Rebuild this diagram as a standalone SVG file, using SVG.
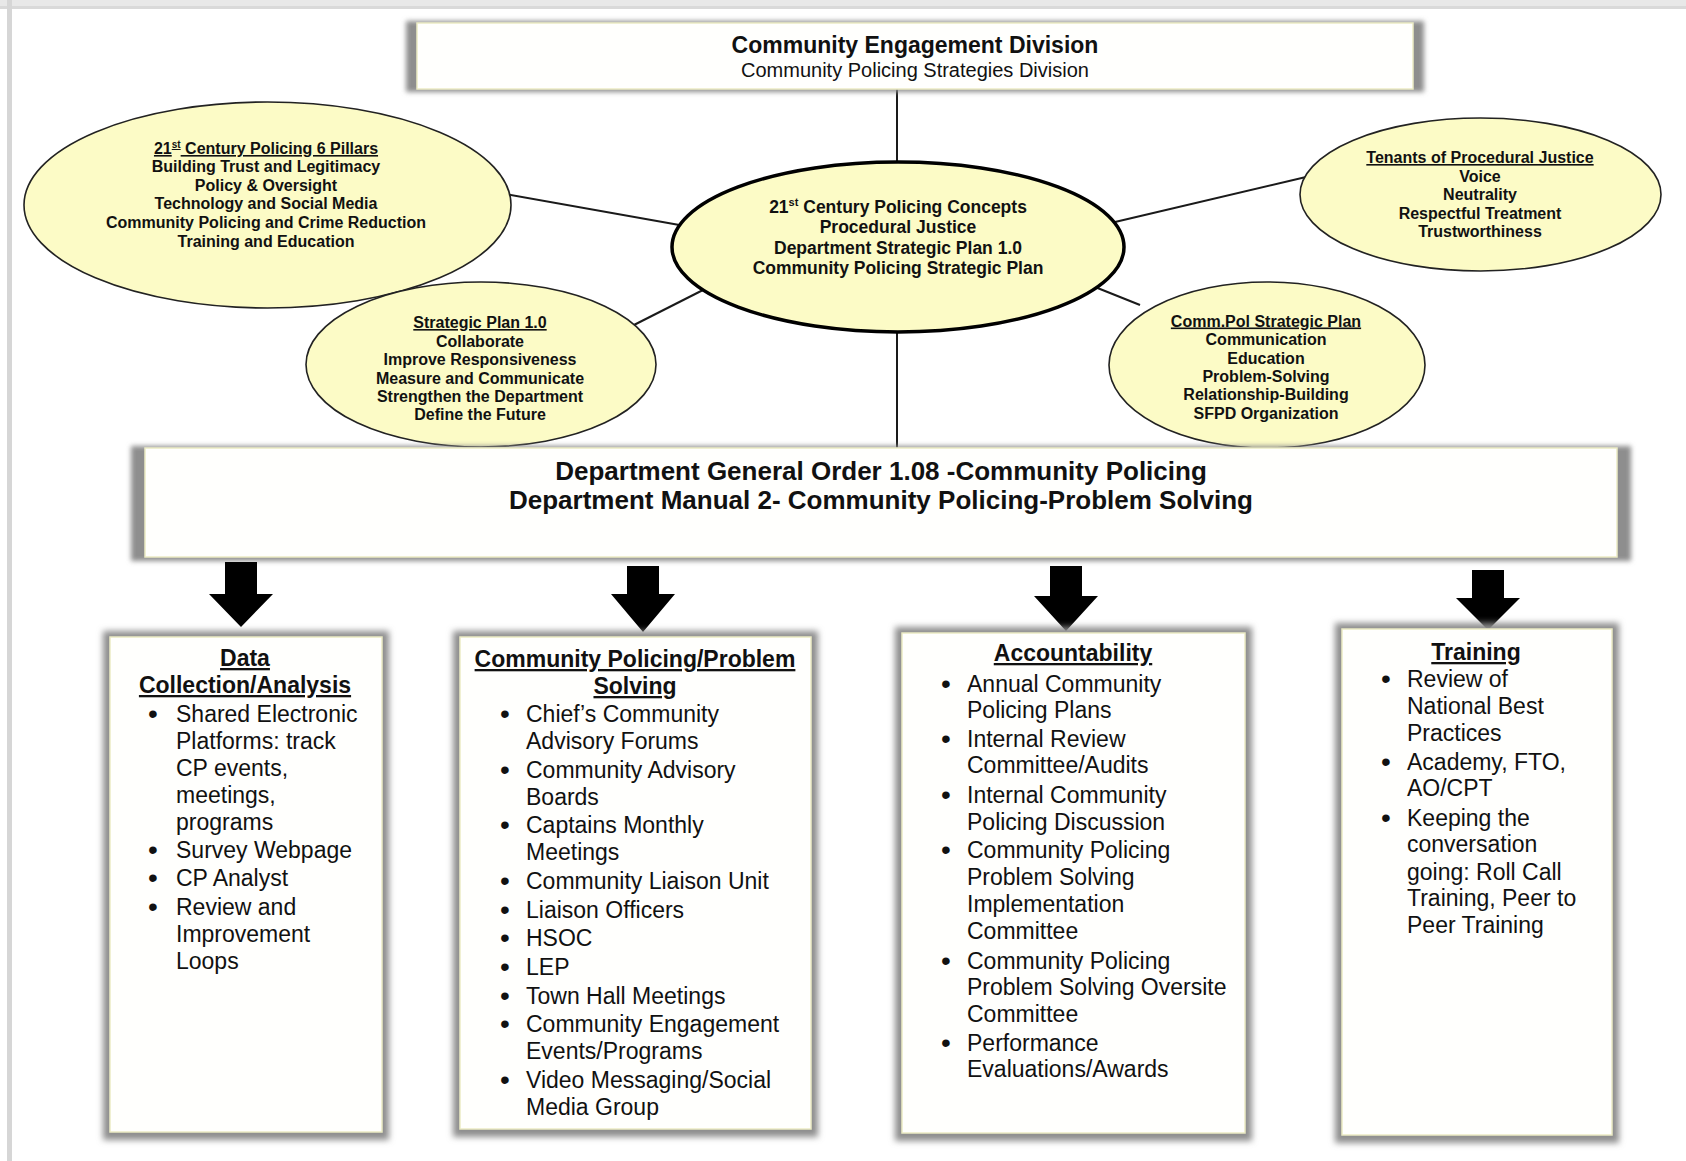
<svg xmlns="http://www.w3.org/2000/svg" width="1686" height="1161" viewBox="0 0 1686 1161">
<defs>
<filter id="blur" x="-5%" y="-20%" width="110%" height="140%"><feGaussianBlur stdDeviation="2.5"/></filter>
<filter id="blur2" x="-10%" y="-10%" width="120%" height="120%"><feGaussianBlur stdDeviation="3"/></filter>
<style>
.t{font-family:"Liberation Sans",Arial,sans-serif;fill:#111}
.eb{font-size:16px;font-weight:bold;text-anchor:middle}
.ce{font-size:17.5px;font-weight:bold;text-anchor:middle}
.bt{font-size:23px;font-weight:bold;text-anchor:middle;text-decoration:underline}
.bd{font-size:23px}
.bl{font-size:28px}
.u{text-decoration:underline}
.el{fill:#fcfbc6;stroke:#222;stroke-width:1.6}
.box{fill:#fffffd;stroke:#ecebc4;stroke-width:1.5}
.sh{fill:#8e8e8e}
.conn line{stroke:#1a1a1a;stroke-width:2}
.arr{fill:#000}
</style>
</defs>
<rect x="0" y="0" width="1686" height="1161" fill="#ffffff"/>
<rect x="0" y="0" width="1686" height="9" fill="#e8e8e8"/>
<rect x="0" y="6" width="1686" height="3" fill="#d9d9d9"/>
<rect x="7" y="0" width="5" height="1161" fill="#d6d6d6"/>

<g id="connectors" class="conn">
<line x1="897" y1="89" x2="897" y2="164"/>
<line x1="897" y1="330" x2="897" y2="448"/>
<line x1="505" y1="194" x2="685" y2="226"/>
<line x1="1115" y1="222" x2="1306" y2="177"/>
<line x1="628" y1="328" x2="705" y2="289"/>
<line x1="1095" y1="287" x2="1140" y2="305"/>
</g>

<g id="top-box">
<rect x="406" y="21" width="1018" height="71" class="sh" filter="url(#blur)"/>
<rect x="417" y="23" width="996" height="66" class="box"/>
<text x="915" y="53" class="t" font-size="23" font-weight="bold" text-anchor="middle">Community Engagement Division</text>
<text x="915" y="77" class="t" font-size="20" text-anchor="middle">Community Policing Strategies Division</text>
</g>

<g id="pillars">
<ellipse cx="267.5" cy="205" rx="243.5" ry="103" class="el"/>
<text x="266" y="154" class="t eb u">21<tspan font-size="10" dy="-6">st</tspan><tspan dy="6"> Century Policing 6 Pillars</tspan></text>
<text x="266" y="172" class="t eb">Building Trust and Legitimacy</text>
<text x="266" y="190.5" class="t eb">Policy &amp; Oversight</text>
<text x="266" y="209" class="t eb">Technology and Social Media</text>
<text x="266" y="227.5" class="t eb">Community Policing and Crime Reduction</text>
<text x="266" y="246.5" class="t eb">Training and Education</text>
</g>

<g id="strategic-plan">
<ellipse cx="481" cy="364.5" rx="175" ry="82.5" class="el"/>
<text x="480" y="328" class="t eb u">Strategic Plan 1.0</text>
<text x="480" y="346.5" class="t eb">Collaborate</text>
<text x="480" y="365" class="t eb">Improve Responsiveness</text>
<text x="480" y="383.5" class="t eb">Measure and Communicate</text>
<text x="480" y="402" class="t eb">Strengthen the Department</text>
<text x="480" y="420" class="t eb">Define the Future</text>
</g>

<g id="concepts">
<ellipse cx="898" cy="247" rx="226" ry="85" fill="#fcfbc6" stroke="#000" stroke-width="3.5"/>
<text x="898" y="213" class="t ce">21<tspan font-size="11" dy="-7">st</tspan><tspan dy="7"> Century Policing Concepts</tspan></text>
<text x="898" y="233" class="t ce">Procedural Justice</text>
<text x="898" y="254" class="t ce">Department Strategic Plan 1.0</text>
<text x="898" y="274" class="t ce">Community Policing Strategic Plan</text>
</g>

<g id="tenants">
<ellipse cx="1480.5" cy="194.5" rx="180.5" ry="76.5" class="el"/>
<text x="1480" y="163" class="t eb u">Tenants of Procedural Justice</text>
<text x="1480" y="181.5" class="t eb">Voice</text>
<text x="1480" y="200" class="t eb">Neutrality</text>
<text x="1480" y="218.5" class="t eb">Respectful Treatment</text>
<text x="1480" y="237" class="t eb">Trustworthiness</text>
</g>

<g id="commpol">
<ellipse cx="1267" cy="365" rx="158" ry="83" class="el"/>
<text x="1266" y="326.5" class="t eb u">Comm.Pol Strategic Plan</text>
<text x="1266" y="345" class="t eb">Communication</text>
<text x="1266" y="363.5" class="t eb">Education</text>
<text x="1266" y="382" class="t eb">Problem-Solving</text>
<text x="1266" y="400" class="t eb">Relationship-Building</text>
<text x="1266" y="418.5" class="t eb">SFPD Organization</text>
</g>

<g id="general-order">
<rect x="131" y="446" width="1500" height="115" class="sh" filter="url(#blur)"/>
<rect x="145" y="448" width="1472" height="109" class="box"/>
<text x="881" y="480" class="t" font-size="26" font-weight="bold" text-anchor="middle">Department General Order 1.08 -Community Policing</text>
<text x="881" y="509" class="t" font-size="26" font-weight="bold" text-anchor="middle">Department Manual 2- Community Policing-Problem Solving</text>
</g>

<g id="arrows">
<polygon class="arr" points="225,562 257,562 257,594 273,594 241,627 209,594 225,594"/>
<polygon class="arr" points="627,566 659,566 659,594 675,594 643,632 611,594 627,594"/>
<polygon class="arr" points="1050,566 1082,566 1082,596 1098,596 1066,631 1034,596 1050,596"/>
<polygon class="arr" points="1472,570 1504,570 1504,598 1520,598 1488,630 1456,598 1472,598"/>
</g>

<g id="data-collection">
<rect x="103" y="631" width="286" height="509" class="sh" filter="url(#blur2)"/>
<rect x="110" y="637" width="272" height="495" class="box"/>
<text x="245" y="666" class="t bt">Data</text>
<text x="245" y="693" class="t bt">Collection/Analysis</text>
<g class="t bd">
<text x="148" y="723" class="bl">•</text><text x="176" y="722">Shared Electronic</text>
<text x="176" y="749">Platforms: track</text>
<text x="176" y="776">CP events,</text>
<text x="176" y="803">meetings,</text>
<text x="176" y="830">programs</text>
<text x="148" y="859" class="bl">•</text><text x="176" y="858">Survey Webpage</text>
<text x="148" y="887" class="bl">•</text><text x="176" y="886">CP Analyst</text>
<text x="148" y="916" class="bl">•</text><text x="176" y="915">Review and</text>
<text x="176" y="942">Improvement</text>
<text x="176" y="969">Loops</text>
</g>
</g>

<g id="cp-problem-solving">
<rect x="453" y="631" width="365" height="506" class="sh" filter="url(#blur2)"/>
<rect x="460" y="637" width="351" height="492" class="box"/>
<text x="635" y="667" class="t bt">Community Policing/Problem</text>
<text x="635" y="694" class="t bt">Solving</text>
<g class="t bd">
<text x="500" y="723" class="bl">•</text><text x="526" y="722">Chief’s Community</text>
<text x="526" y="749">Advisory Forums</text>
<text x="500" y="779" class="bl">•</text><text x="526" y="778">Community Advisory</text>
<text x="526" y="805">Boards</text>
<text x="500" y="834" class="bl">•</text><text x="526" y="833">Captains Monthly</text>
<text x="526" y="860">Meetings</text>
<text x="500" y="890" class="bl">•</text><text x="526" y="889">Community Liaison Unit</text>
<text x="500" y="919" class="bl">•</text><text x="526" y="918">Liaison Officers</text>
<text x="500" y="947" class="bl">•</text><text x="526" y="946">HSOC</text>
<text x="500" y="976" class="bl">•</text><text x="526" y="975">LEP</text>
<text x="500" y="1005" class="bl">•</text><text x="526" y="1004">Town Hall Meetings</text>
<text x="500" y="1033" class="bl">•</text><text x="526" y="1032">Community Engagement</text>
<text x="526" y="1059">Events/Programs</text>
<text x="500" y="1089" class="bl">•</text><text x="526" y="1088">Video Messaging/Social</text>
<text x="526" y="1115">Media Group</text>
</g>
</g>

<g id="accountability">
<rect x="895" y="627" width="357" height="514" class="sh" filter="url(#blur2)"/>
<rect x="902" y="633" width="343" height="500" class="box"/>
<text x="1073" y="661" class="t bt">Accountability</text>
<g class="t bd">
<text x="941" y="693" class="bl">•</text><text x="967" y="692">Annual Community</text>
<text x="967" y="718">Policing Plans</text>
<text x="941" y="748" class="bl">•</text><text x="967" y="747">Internal Review</text>
<text x="967" y="773">Committee/Audits</text>
<text x="941" y="804" class="bl">•</text><text x="967" y="803">Internal Community</text>
<text x="967" y="830">Policing Discussion</text>
<text x="941" y="859" class="bl">•</text><text x="967" y="858">Community Policing</text>
<text x="967" y="885">Problem Solving</text>
<text x="967" y="912">Implementation</text>
<text x="967" y="939">Committee</text>
<text x="941" y="970" class="bl">•</text><text x="967" y="969">Community Policing</text>
<text x="967" y="995">Problem Solving Oversite</text>
<text x="967" y="1022">Committee</text>
<text x="941" y="1052" class="bl">•</text><text x="967" y="1051">Performance</text>
<text x="967" y="1077">Evaluations/Awards</text>
</g>
</g>

<g id="training">
<rect x="1335" y="623" width="284" height="520" class="sh" filter="url(#blur2)"/>
<rect x="1342" y="629" width="270" height="506" class="box"/>
<text x="1476" y="660" class="t bt">Training</text>
<g class="t bd">
<text x="1381" y="688" class="bl">•</text><text x="1407" y="687">Review of</text>
<text x="1407" y="714">National Best</text>
<text x="1407" y="741">Practices</text>
<text x="1381" y="771" class="bl">•</text><text x="1407" y="770">Academy, FTO,</text>
<text x="1407" y="796">AO/CPT</text>
<text x="1381" y="827" class="bl">•</text><text x="1407" y="826">Keeping the</text>
<text x="1407" y="852">conversation</text>
<text x="1407" y="880">going: Roll Call</text>
<text x="1407" y="906">Training, Peer to</text>
<text x="1407" y="933">Peer Training</text>
</g>
</g>
</svg>
